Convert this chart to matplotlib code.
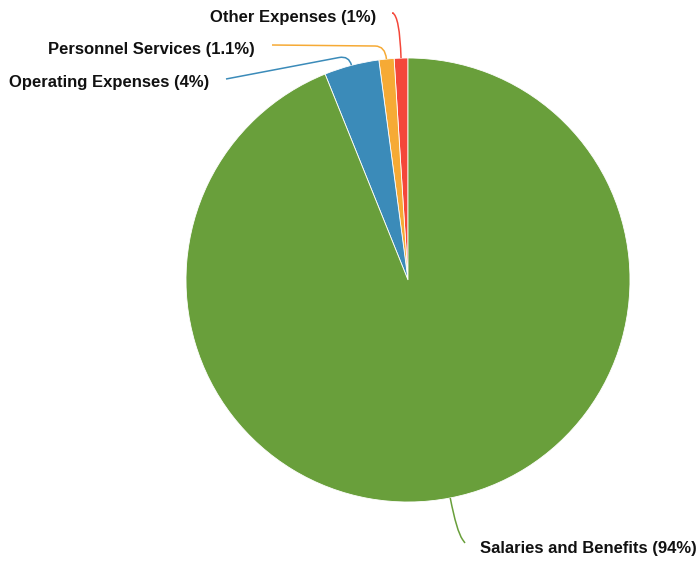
import numpy as np
import matplotlib
matplotlib.use("Agg")
import matplotlib.pyplot as plt
from matplotlib.path import Path
from matplotlib.patches import PathPatch

plt.rcParams['font.family'] = ['Liberation Sans', 'DejaVu Sans']

categories = ["Other Expenses", "Personnel Services", "Operating Expenses", "Salaries and Benefits"]
shares = [1.0, 1.1, 4.0, 94.0]
pct_labels = ["1%", "1.1%", "4%", "94%"]
colors = ["#f4473a", "#f6aa35", "#3b8bb9", "#699f3b"]

# label layout in pixel space: text anchor, leader end, bend distance, bend size
label_xy = [(376, 17), (255, 49), (209, 82), (480, 548)]
line_end = [(393, 13), (272, 45), (226, 79), (465, 543)]
ctrl_dist = [42, 13, 10, 34]
bend = [8, 10, 10, 10]
aligns = ["right", "right", "right", "left"]

cx, cy, r = 408, 280, 222

fig = plt.figure(figsize=(6.97, 5.61), dpi=100)
ax = fig.add_axes([0, 0, 1, 1])
ax.axis('off')

# y axis is flipped, so counterclock=False draws visually counter-clockwise
wedges, _ = ax.pie(shares, colors=colors, startangle=-90, counterclock=False,
                   center=(cx, cy), radius=r,
                   wedgeprops=dict(edgecolor='white', linewidth=0.6))
ax.set_xlim(0, 697)
ax.set_ylim(561, 0)
ax.set_aspect('equal')

total = sum(shares)
start = 90.0
for i, name in enumerate(categories):
    span = shares[i] / total * 360
    mid = np.radians(start + span / 2)
    start += span
    dx, dy = np.cos(mid), -np.sin(mid)
    p0 = np.array([cx + r * dx, cy + r * dy])
    p1 = p0 + ctrl_dist[i] * np.array([dx, dy])
    end = np.array(line_end[i], dtype=float)
    u = (end - p1) / np.linalg.norm(end - p1)
    q = p1 + bend[i] * u
    path = Path([p0, p1, q, end], [Path.MOVETO, Path.CURVE3, Path.CURVE3, Path.LINETO])
    ax.add_patch(PathPatch(path, facecolor='none', edgecolor=colors[i], lw=1.1))
    ax.text(label_xy[i][0], label_xy[i][1], f"{name} ({pct_labels[i]})",
            ha=aligns[i], va='center', fontsize=12, fontweight='bold', color='#111111')

fig.savefig("out.png", dpi=100, facecolor='white')
